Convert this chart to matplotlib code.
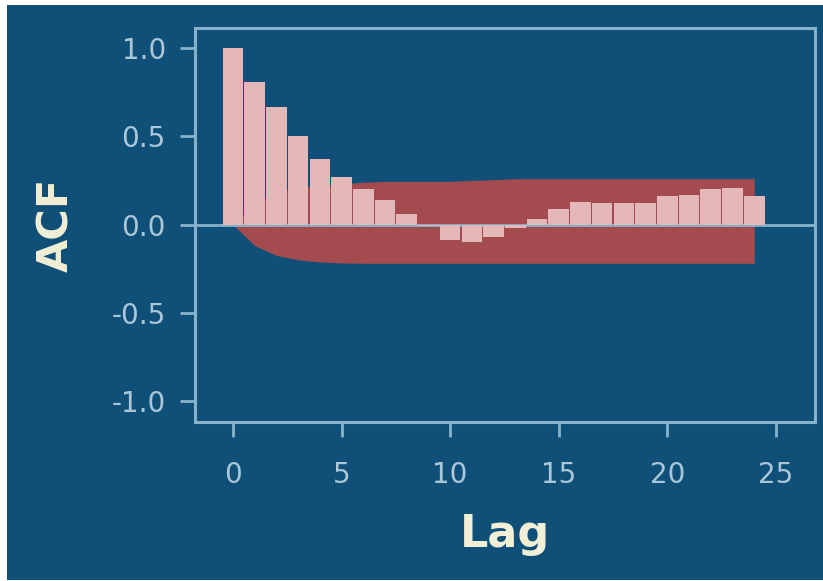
import numpy as np
import matplotlib
matplotlib.use("Agg")
from matplotlib import pyplot as plt
from matplotlib.patches import Rectangle

# ACF values
lags = list(range(25))
acf = [1.0, 0.81, 0.665, 0.50, 0.37, 0.27, 0.20, 0.14, 0.06, -0.01,
       -0.09, -0.10, -0.07, -0.02, 0.03, 0.09, 0.13, 0.12, 0.12, 0.12,
       0.16, 0.17, 0.20, 0.21, 0.16]
# confidence band edges (around zero)
band_upper = [0.0, 0.12, 0.18, 0.21, 0.22, 0.23, 0.24, 0.245, 0.245, 0.245,
              0.245, 0.25, 0.255, 0.26, 0.26, 0.26, 0.26, 0.26, 0.26, 0.26,
              0.26, 0.26, 0.26, 0.26, 0.26]
band_lower = [0.0, -0.12, -0.175, -0.2, -0.212, -0.218, -0.22, -0.22, -0.22, -0.22,
              -0.22, -0.22, -0.22, -0.22, -0.22, -0.22, -0.22, -0.22, -0.22, -0.22,
              -0.22, -0.22, -0.22, -0.22, -0.22]
yticks = [-1.0, -0.5, 0.0, 0.5, 1.0]
xticks = [0, 5, 10, 15, 20, 25]

bg = "#0f4f78"
spine_col = "#86b3cb"
tick_col = "#a9c7d8"
label_col = "#f1f0d6"

plt.rcParams['axes.unicode_minus'] = False
plt.rcParams['font.family'] = ['DejaVu Sans']

fig = plt.figure(figsize=(8.23, 5.81), dpi=100, facecolor="white")
# blue panel with a thin white margin on the left/top
fig.patches.append(Rectangle((7 / 823, 1 / 581), 1 - 7 / 823, 1 - 6 / 581,
                             transform=fig.transFigure, facecolor=bg,
                             edgecolor="none", zorder=-10))

ax = fig.add_axes([195 / 823, 1 - 422 / 581, 620 / 823, 394 / 581])
ax.set_facecolor(bg)

ax.fill_between(lags, band_lower, band_upper, color="#a34b4f", lw=0, zorder=1)
ax.axhline(0, color=spine_col, lw=2, zorder=2)
ax.bar(lags, acf, width=0.95, color="#e4b7b9", edgecolor="none", zorder=3)

ax.set_xlim(-1.75, 26.8)
ax.set_ylim(-1.12, 1.115)
ax.set_xticks(xticks)
ax.set_yticks(yticks)
ax.set_yticklabels([f"{v:.1f}" for v in yticks])

for s in ax.spines.values():
    s.set_color(spine_col)
    s.set_linewidth(2.2)
ax.tick_params(axis="both", colors=spine_col, labelcolor=tick_col,
               labelsize=20, length=11, width=2)
ax.tick_params(axis="x", pad=17)
ax.tick_params(axis="y", pad=10)

ax.set_xlabel("Lag", fontsize=32, fontweight="bold", color=label_col)
ax.set_ylabel("ACF", fontsize=31, fontweight="bold", color=label_col)
ax.xaxis.set_label_coords(0.5, -0.23)
ax.yaxis.set_label_coords(-0.19, 0.5)

fig.savefig("out.png", dpi=100, facecolor="white")
